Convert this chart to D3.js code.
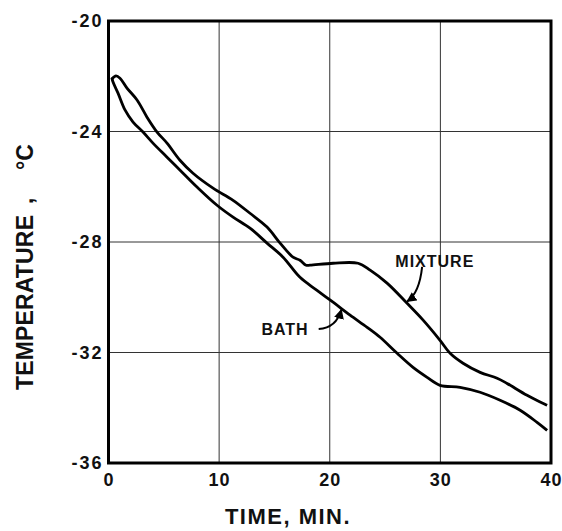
<!DOCTYPE html>
<html>
<head>
<meta charset="utf-8">
<script src="https://cdn.jsdelivr.net/npm/d3@7"></script>
<style>
  body { margin: 0; background: #fff; }
  text { font-family: "Liberation Sans", Arial, sans-serif; font-weight: bold; fill: #111; }
</style>
</head>
<body>
<div id="chart"></div>
<script>
// cooling curves
var mixTime = [0.3, 0.68, 1.04, 1.67, 2.58, 3.48, 4.39, 5.29, 6.46, 7.64, 9.45, 11.26, 12.79, 14.33, 15.51,
  16.68, 17.31, 17.86, 18.22, 20.3, 22.56, 23.65, 25.18, 26.99, 28.44, 29.97, 30.88, 32.05, 33.59, 35.13, 36.03, 37.84, 39.65];
var mixTemp = [-22.1, -21.99, -22.07, -22.43, -22.86, -23.48, -24.02, -24.42, -25.04, -25.51, -26.05, -26.49, -26.96, -27.46, -28.04,
  -28.55, -28.66, -28.84, -28.84, -28.77, -28.77, -29.02, -29.49, -30.22, -30.83, -31.56, -32.03, -32.39, -32.72, -32.93, -33.12, -33.55, -33.91];

var bathTime = [0.3, 0.41, 0.86, 1.49, 2.22, 3.12, 4.02, 5.29, 6.74, 8.0, 9.81, 11.26, 12.79, 14.33, 15.78, 17.31, 18.85,
  20.3, 21.84, 23.38, 24.55, 26.09, 27.53, 28.8, 29.97, 31.78, 33.59, 35.4, 37.21, 38.74, 39.65];
var bathTemp = [-22.05, -22.21, -22.61, -23.22, -23.66, -24.02, -24.42, -24.93, -25.51, -26.01, -26.67, -27.1, -27.5, -28.04, -28.55, -29.28, -29.75,
  -30.18, -30.65, -31.09, -31.45, -32.03, -32.54, -32.9, -33.19, -33.26, -33.44, -33.73, -34.09, -34.53, -34.82];

var xTicks = [0, 10, 20, 30, 40];
var yTicks = [-20, -24, -28, -32, -36];

var width = 562, height = 531;
var pLeft = 108.5, pRight = 551, pTop = 21, pBottom = 463;

var svg = d3.select('#chart').append('svg')
  .attr('width', width)
  .attr('height', height);

var x = d3.scaleLinear().domain([0, 40]).range([pLeft, pRight]);
var y = d3.scaleLinear().domain([-36, -20]).range([pBottom, pTop]);

// grid
var grid = svg.append('g');
grid.selectAll('.vg').data(xTicks.slice(1, -1)).enter().append('line')
  .attr('x1', function(d){ return x(d); }).attr('x2', function(d){ return x(d); })
  .attr('y1', pTop).attr('y2', pBottom)
  .attr('stroke', '#333').attr('stroke-width', 1);
grid.selectAll('.hg').data(yTicks.slice(1, -1)).enter().append('line')
  .attr('y1', function(d){ return y(d); }).attr('y2', function(d){ return y(d); })
  .attr('x1', pLeft).attr('x2', pRight)
  .attr('stroke', '#333').attr('stroke-width', 1);

// axes, labels only
var xAxis = svg.append('g')
  .attr('transform', 'translate(0,' + pBottom + ')')
  .call(d3.axisBottom(x).tickValues(xTicks).tickSize(0).tickPadding(10));
xAxis.select('.domain').remove();
xAxis.selectAll('text')
  .attr('font-size', 18)
  .attr('letter-spacing', 1)
  .attr('fill', '#111');

var yAxis = svg.append('g')
  .attr('transform', 'translate(' + (pLeft - 5) + ',0)')
  .call(d3.axisLeft(y).tickValues(yTicks).tickSize(0).tickPadding(0)
    .tickFormat(function(d){ return '-' + Math.abs(d); }));
yAxis.select('.domain').remove();
yAxis.selectAll('text')
  .attr('font-size', 18)
  .attr('letter-spacing', 2)
  .attr('fill', '#111');

// frame
svg.append('rect')
  .attr('x', pLeft).attr('y', pTop)
  .attr('width', pRight - pLeft).attr('height', pBottom - pTop)
  .attr('fill', 'none').attr('stroke', '#000').attr('stroke-width', 3);

// curves
var line = d3.line()
  .x(function(d){ return x(d[0]); })
  .y(function(d){ return y(d[1]); })
  .curve(d3.curveCatmullRom);

var mix = d3.zip(mixTime, mixTemp);
var bath = d3.zip(bathTime, bathTemp);

svg.append('path').datum(mix).attr('d', line)
  .attr('fill', 'none').attr('stroke', '#000').attr('stroke-width', 2.8);
svg.append('path').datum(bath).attr('d', line)
  .attr('fill', 'none').attr('stroke', '#000').attr('stroke-width', 2.8);

// annotations
svg.append('defs').append('marker')
  .attr('id', 'head')
  .attr('viewBox', '0 0 10 10')
  .attr('refX', 9).attr('refY', 5)
  .attr('markerWidth', 5).attr('markerHeight', 5)
  .attr('orient', 'auto')
  .append('path').attr('d', 'M0,0L10,5L0,10z').attr('fill', '#000');

svg.append('text')
  .attr('x', x(29.5)).attr('y', y(-28.91))
  .attr('text-anchor', 'middle')
  .attr('font-size', 16)
  .attr('letter-spacing', 1)
  .text('MIXTURE');
svg.append('path')
  .attr('d', 'M' + x(28.35) + ',' + y(-28.9) + 'Q' + x(28.1) + ',' + y(-29.85) + ' ' + x(27.0) + ',' + y(-30.15))
  .attr('fill', 'none').attr('stroke', '#000').attr('stroke-width', 2)
  .attr('marker-end', 'url(#head)');

svg.append('text')
  .attr('x', x(15.96)).attr('y', y(-31.38))
  .attr('text-anchor', 'middle')
  .attr('font-size', 16)
  .attr('letter-spacing', 1)
  .text('BATH');
svg.append('path')
  .attr('d', 'M' + x(19.0) + ',' + y(-31.15) + 'Q' + x(20.6) + ',' + y(-31.1) + ' ' + x(21.05) + ',' + y(-30.45))
  .attr('fill', 'none').attr('stroke', '#000').attr('stroke-width', 2)
  .attr('marker-end', 'url(#head)');

// axis titles
svg.append('text')
  .attr('x', 288).attr('y', 524)
  .attr('text-anchor', 'middle')
  .attr('font-size', 22)
  .attr('letter-spacing', 1.5)
  .text('TIME, MIN.');

svg.append('text')
  .attr('transform', 'translate(33,390) rotate(-90)')
  .attr('font-size', 23)
  .attr('textLength', 175)
  .text('TEMPERATURE');
svg.append('text')
  .attr('transform', 'translate(33,204) rotate(-90)')
  .attr('font-size', 23)
  .text(',');
svg.append('text')
  .attr('transform', 'translate(33,170) rotate(-90)')
  .attr('font-size', 23)
  .text('°C');
</script>
</body>
</html>
